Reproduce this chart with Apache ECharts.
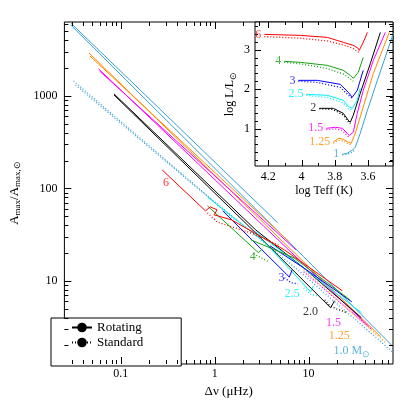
<!DOCTYPE html>
<html>
<head>
<meta charset="utf-8">
<script src="https://cdn.jsdelivr.net/npm/echarts@6/dist/echarts.min.js"></script>
<style>
  html, body { margin: 0; padding: 0; background: #fff; }
  #chart { width: 415px; height: 415px; }
</style>
</head>
<body>
<div id="chart"></div>
<script>
// main panel, points are [dnu (muHz), Amax / Amax,sun]
var m10RotAgb = [[0.0293, 6150], [4.70, 42.4]]
var m10RotRgb = [[0.0293, 5860], [8.89, 18.2], [78.0, 1.98]]
var m10StdRgb = [[0.0314, 1452], [0.838, 83.0], [8.89, 11.6], [78.0, 1.71]]
var m10StdAgb = [[0.0330, 1315], [1.70, 44.5]]
var m125RotRgb = [[0.0459, 2917], [8.89, 16.0], [58.8, 2.48]]
var m125RotAgb = [[0.0470, 2704], [6.24, 26.4]]
var m125Std = [[8.89, 13.2], [66.2, 2.14]]
var m15RotRgb = [[0.0581, 1959], [8.89, 15.1], [43.3, 3.26]]
var m15RotAgb = [[0.0595, 1862], [7.36, 21.6]]
var m15Std = [[8.89, 12.5], [46.4, 3.03]]
var m20RotRgb = [[0.0848, 1051], [2.73, 35.6], [8.89, 13.8], [36.6, 3.98]]
var m20RotAgb = [[0.0848, 1025], [2.73, 33.0], [17.2, 5.11], [18.9, 6.08]]
var m20Std = [[14.9, 6.23], [16.8, 5.37], [19.8, 4.98], [25.7, 4.51]]
var m25RotAgb = [[0.838, 80.9], [3.46, 25.8], [10.5, 7.61], [11.3, 8.83]]
var m25RotRgb = [[2.73, 33.9], [7.02, 16.5], [36.6, 4.51]]
var m25Std = [[8.89, 8.40], [10.7, 7.06], [13.0, 6.88]]
var m3RotAgb = [[1.22, 57.1], [6.24, 11.0], [6.69, 13.1]]
var m3RotRgb = [[3.89, 23.9], [8.89, 13.8], [28.9, 5.93]]
var m3Std = [[5.54, 10.8], [6.54, 9.51], [7.71, 9.28]]
var m4RotAgb = [[0.838, 64.7], [2.93, 20.1], [3.22, 22.2]]
var m4RotRgb = [[2.42, 27.8], [7.02, 17.7], [27.6, 6.23]]
var m4Std = [[2.60, 19.6], [3.14, 17.7], [3.80, 16.0]]
var m6Rot = [[0.276, 158.5], [0.799, 57.1], [0.899, 63.1], [1.06, 58.6], [0.988, 51.7], [1.51, 45.7], [5.54, 21.6], [22.9, 7.80]]
var m6Std = [[0.838, 54.3], [1.06, 43.4], [1.41, 39.3], [2.42, 33.0], [3.62, 27.8], [4.92, 23.9]]

// inset HR diagram, points are [log Teff, log L/Lsun]
var hr1Rot = [[3.755, 0.348], [3.725, 0.373], [3.695, 0.449], [3.677, 0.525], [3.647, 0.879], [3.604, 1.462], [3.544, 2.221], [3.448, 3.411]]
var hr1Std = [[3.755, 0.33], [3.725, 0.34], [3.695, 0.40], [3.677, 0.47]]
var hr125Rot = [[3.809, 0.652], [3.779, 0.753], [3.749, 0.728], [3.719, 0.652], [3.701, 0.627], [3.677, 0.879], [3.635, 1.462], [3.568, 2.399], [3.472, 3.437]]
var hr125Std = [[3.809, 0.63], [3.779, 0.70], [3.749, 0.69], [3.719, 0.61], [3.701, 0.59]]
var hr15Rot = [[3.851, 1.006], [3.797, 1.031], [3.755, 1.006], [3.725, 0.879], [3.713, 0.828], [3.689, 0.905], [3.665, 1.386], [3.629, 1.968], [3.568, 2.728], [3.496, 3.437]]
var hr15Std = [[3.851, 0.97], [3.797, 0.99], [3.755, 0.95], [3.725, 0.82], [3.713, 0.78]]
var hr2Rot = [[3.893, 1.512], [3.809, 1.512], [3.749, 1.386], [3.719, 1.209], [3.707, 1.158], [3.689, 1.335], [3.647, 1.892], [3.586, 2.652], [3.526, 3.437]]
var hr2Std = [[3.893, 1.50], [3.809, 1.48], [3.749, 1.34], [3.719, 1.17], [3.707, 1.12]]
var hr25Rot = [[3.971, 1.867], [3.845, 1.842], [3.749, 1.715], [3.719, 1.563], [3.695, 1.512], [3.665, 1.715], [3.647, 2.019]]
var hr25Std = [[3.971, 1.84], [3.845, 1.79], [3.749, 1.65], [3.719, 1.50], [3.695, 1.46]]
var hr3Rot = [[4.019, 2.221], [3.905, 2.221], [3.767, 2.120], [3.719, 1.918], [3.695, 1.791], [3.665, 1.968], [3.629, 2.475]]
var hr3Std = [[4.019, 2.20], [3.905, 2.17], [3.767, 2.04], [3.719, 1.85], [3.695, 1.76]]
var hr4Rot = [[4.104, 2.703], [4.007, 2.677], [3.845, 2.601], [3.749, 2.475], [3.707, 2.348], [3.689, 2.272], [3.659, 2.424], [3.629, 2.804]]
var hr4Std = [[4.104, 2.68], [4.007, 2.64], [3.845, 2.52], [3.749, 2.38], [3.707, 2.26], [3.689, 2.20]]
var hr6Rot = [[4.224, 3.386], [4.007, 3.361], [3.845, 3.310], [3.749, 3.184], [3.689, 3.108], [3.659, 3.032], [3.653, 2.98], [3.629, 3.184], [3.604, 3.437]]
var hr6Std = [[4.224, 3.33], [4.007, 3.29], [3.845, 3.22], [3.749, 3.12], [3.689, 3.03], [3.665, 2.95], [3.653, 2.93]]

// mass labels in the main panel
var massLabels = ['6', '4', '3', '2.5', '2.0', '1.5', '1.25', '1.0 M{s|⊙}']
var massKeys = ['6', '4', '3', '2.5', '2', '1.5', '1.25', '1']
var labelDnu = [0.303, 2.54, 5.16, 6.69, 10.5, 18.5, 21.3, 28.9]
var labelAmp = [114.5, 18.2, 10.8, 7.23, 4.62, 3.51, 2.54, 1.75]
var insetLabels = ['6', '4', '3', '2.5', '2', '1.5', '1.25', '1']

var colors = {
  '1': '#35a0d6',
  '1.25': '#ff8c00',
  '1.5': '#ff00ff',
  '2': '#000000',
  '2.5': '#00f0f0',
  '3': '#0000ff',
  '4': '#16a016',
  '6': '#ff0000'
}

var F = 'Liberation Serif'
var xMin = 0.0251
var xMax = 79.4
var yMin = 1.259
var yMax = 6310
var tMin = 3.45
var tMax = 4.28
var lMin = 0.05
var lMax = 3.7

function track (data, color, dotted, idx) {
  return {
    type: 'line',
    xAxisIndex: idx,
    yAxisIndex: idx,
    data: data,
    symbol: 'none',
    silent: true,
    animation: false,
    lineStyle: { color: color, width: dotted ? 1.3 : 1, type: dotted ? [1, 2] : 'solid' }
  }
}

// pgplot style ticks on all four sides
function tickSeries (ticks, idx) {
  return {
    type: 'custom',
    xAxisIndex: idx,
    yAxisIndex: idx,
    silent: true,
    clip: false,
    z: 5,
    data: ticks,
    renderItem: function (params, api) {
      var p = api.coord([api.value(0), api.value(1)])
      var dx = api.value(2)
      var dy = api.value(3)
      var x = dx === 0 ? Math.round(p[0]) + 0.5 : p[0]
      var y = dy === 0 ? Math.round(p[1]) + 0.5 : p[1]
      return {
        type: 'line',
        shape: { x1: x, y1: y, x2: x + dx, y2: y + dy },
        style: { stroke: '#000', lineWidth: 1 }
      }
    }
  }
}

function logVals (lo, hi) {
  var out = []
  for (var e = -3; e <= 4; e++) {
    for (var m = 1; m <= 9; m++) {
      var v = m * Math.pow(10, e)
      if (v > lo && v < hi) out.push([v, m === 1])
    }
  }
  return out
}

var mainTicks = []
logVals(xMin, xMax).forEach(function (t) {
  var len = t[1] ? 7 : 4
  mainTicks.push([t[0], yMin, 0, -len])
  if (t[0] <= 3) mainTicks.push([t[0], yMax, 0, len])
})
logVals(yMin, yMax).forEach(function (t) {
  var len = t[1] ? 7 : 4
  mainTicks.push([xMin, t[0], len, 0])
  mainTicks.push([xMax, t[0], -len, 0])
})

var insetTicks = []
for (var i = 35; i <= 42; i++) {
  var tl = i % 2 === 0 ? 6 : 3
  insetTicks.push([i / 10, lMin, 0, -tl])
  insetTicks.push([i / 10, lMax, 0, tl])
}
for (var j = 1; j <= 18; j++) {
  var ll = j % 5 === 0 ? 6 : 3
  insetTicks.push([tMax, j / 5, ll, 0])
  insetTicks.push([tMin, j / 5, -ll, 0])
}

function decadeLabel (v) {
  var lg = Math.log10(v)
  var e = Math.round(lg)
  if (Math.abs(lg - e) > 1e-6) return ''
  return e < 0 ? Math.pow(10, e).toFixed(-e) : String(Math.pow(10, e))
}

var subRich = {
  a: { fontFamily: F, fontSize: 13, color: '#000' },
  s: { fontFamily: F, fontSize: 9, color: '#000', padding: [7, 0, 0, 0] }
}

var labelStyle = { color: '#000', fontFamily: F, fontSize: 12 }

var series = [
  track(m10RotRgb, colors['1'], false, 0),
  track(m10RotAgb, colors['1'], false, 0),
  track(m10StdRgb, colors['1'], true, 0),
  track(m10StdAgb, colors['1'], true, 0),
  track(m125RotRgb, colors['1.25'], false, 0),
  track(m125RotAgb, colors['1.25'], false, 0),
  track(m125Std, colors['1.25'], true, 0),
  track(m15RotRgb, colors['1.5'], false, 0),
  track(m15RotAgb, colors['1.5'], false, 0),
  track(m15Std, colors['1.5'], true, 0),
  track(m20RotRgb, colors['2'], false, 0),
  track(m20RotAgb, colors['2'], false, 0),
  track(m20Std, colors['2'], true, 0),
  track(m25RotAgb, colors['2.5'], false, 0),
  track(m25RotRgb, colors['2.5'], false, 0),
  track(m25Std, colors['2.5'], true, 0),
  track(m3RotAgb, colors['3'], false, 0),
  track(m3RotRgb, colors['3'], false, 0),
  track(m3Std, colors['3'], true, 0),
  track(m4RotAgb, colors['4'], false, 0),
  track(m4RotRgb, colors['4'], false, 0),
  track(m4Std, colors['4'], true, 0),
  track(m6Rot, colors['6'], false, 0),
  track(m6Std, colors['6'], true, 0)
]

var hrTracks = [
  ['1', hr1Rot, hr1Std], ['1.25', hr125Rot, hr125Std], ['1.5', hr15Rot, hr15Std],
  ['2', hr2Rot, hr2Std], ['2.5', hr25Rot, hr25Std], ['3', hr3Rot, hr3Std],
  ['4', hr4Rot, hr4Std], ['6', hr6Rot, hr6Std]
]
hrTracks.forEach(function (t) {
  series.push(track(t[1], colors[t[0]], false, 1))
  series.push(track(t[2], colors[t[0]], true, 1))
})

// legend entries only
series.push({ name: 'Rotating', type: 'line', data: [], symbol: 'none', lineStyle: { color: '#000', width: 1 }, itemStyle: { color: '#000' } })
series.push({ name: 'Standard', type: 'line', data: [], symbol: 'none', lineStyle: { color: '#000', width: 1.3, type: [1, 2] }, itemStyle: { color: '#000' } })

series.push({
  type: 'scatter',
  xAxisIndex: 0,
  yAxisIndex: 0,
  symbolSize: 0,
  silent: true,
  z: 6,
  data: massLabels.map(function (n, k) {
    return { name: n, value: [labelDnu[k], labelAmp[k]], label: { color: colors[massKeys[k]] } }
  }),
  label: {
    show: true,
    position: 'inside',
    fontFamily: F,
    fontSize: 12,
    formatter: function (p) { return p.name },
    rich: { s: { fontFamily: F, fontSize: 9, padding: [7, 0, 0, 0] } }
  }
})

series.push({
  type: 'scatter',
  xAxisIndex: 1,
  yAxisIndex: 1,
  symbolSize: 0,
  silent: true,
  z: 6,
  data: hrTracks.map(function (t) {
    return { name: t[0], value: t[1][0], label: { color: colors[t[0]] } }
  }),
  label: {
    show: true,
    position: 'left',
    distance: 3,
    fontFamily: F,
    fontSize: 12,
    formatter: function (p) { return p.name }
  }
})

series.push(tickSeries(mainTicks, 0))
series.push(tickSeries(insetTicks, 1))

var chart = echarts.init(document.getElementById('chart'), null, { renderer: 'canvas' })
chart.setOption({
  animation: false,
  backgroundColor: '#fff',
  grid: [
    { left: 51, top: 22, width: 342, height: 342, show: true, borderColor: '#000', borderWidth: 1, backgroundColor: 'transparent' },
    { left: 255, top: 22, width: 138, height: 144, show: true, borderColor: '#000', borderWidth: 1, backgroundColor: '#fff' }
  ],
  xAxis: [
    {
      type: 'log',
      logBase: 10,
      gridIndex: 0,
      min: xMin,
      max: xMax,
      axisLine: { show: false },
      axisTick: { show: false },
      splitLine: { show: false },
      axisLabel: Object.assign({ formatter: decadeLabel, margin: 4, interval: 0, hideOverlap: false, showMinLabel: true, showMaxLabel: true }, labelStyle),
      name: 'Δν (μHz)',
      nameLocation: 'middle',
      nameGap: 17,
      nameTextStyle: { color: '#000', fontFamily: F, fontSize: 13 }
    },
    {
      type: 'value',
      gridIndex: 1,
      inverse: true,
      min: tMin,
      max: tMax,
      interval: 0.05,
      axisLine: { show: false },
      axisTick: { show: false },
      splitLine: { show: false },
      axisLabel: Object.assign({
        margin: 5,
        interval: 0,
        hideOverlap: false,
        formatter: function (v) {
          if (Math.abs(v * 5 - Math.round(v * 5)) > 1e-6) return ''
          return String(Math.round(v * 10) / 10)
        }
      }, labelStyle),
      name: 'log Teff (K)',
      nameLocation: 'middle',
      nameGap: 19,
      nameTextStyle: { color: '#000', fontFamily: F, fontSize: 12 }
    }
  ],
  yAxis: [
    {
      type: 'log',
      logBase: 10,
      gridIndex: 0,
      min: yMin,
      max: yMax,
      axisLine: { show: false },
      axisTick: { show: false },
      splitLine: { show: false },
      axisLabel: Object.assign({ formatter: decadeLabel, margin: 7, interval: 0, hideOverlap: false }, labelStyle),
      name: '{a|A}{s|max}{a|/A}{s|max,⊙}',
      nameLocation: 'middle',
      nameGap: 30,
      nameTextStyle: { color: '#000', fontFamily: F, fontSize: 13, rich: subRich }
    },
    {
      type: 'value',
      gridIndex: 1,
      min: lMin,
      max: lMax,
      interval: 0.05,
      axisLine: { show: false },
      axisTick: { show: false },
      splitLine: { show: false },
      axisLabel: Object.assign({
        margin: 5,
        interval: 0,
        hideOverlap: false,
        formatter: function (v) {
          if (Math.abs(v - Math.round(v)) > 1e-6) return ''
          return String(Math.round(v))
        }
      }, labelStyle),
      name: '{a|log L/L}{s|⊙}',
      nameLocation: 'middle',
      nameGap: 17,
      nameTextStyle: { color: '#000', fontFamily: F, fontSize: 12, rich: { a: { fontFamily: F, fontSize: 12, color: '#000' }, s: subRich.s } }
    }
  ],
  legend: {
    data: ['Rotating', 'Standard'],
    orient: 'vertical',
    left: 51,
    top: 318,
    padding: [3, 38, 17, 20],
    itemWidth: 20,
    itemHeight: 12,
    itemGap: 2,
    selectedMode: false,
    borderColor: '#000',
    borderWidth: 1,
    backgroundColor: '#fff',
    textStyle: { color: '#000', fontFamily: F, fontSize: 13 }
  },
  series: series
})
</script>
</body>
</html>
